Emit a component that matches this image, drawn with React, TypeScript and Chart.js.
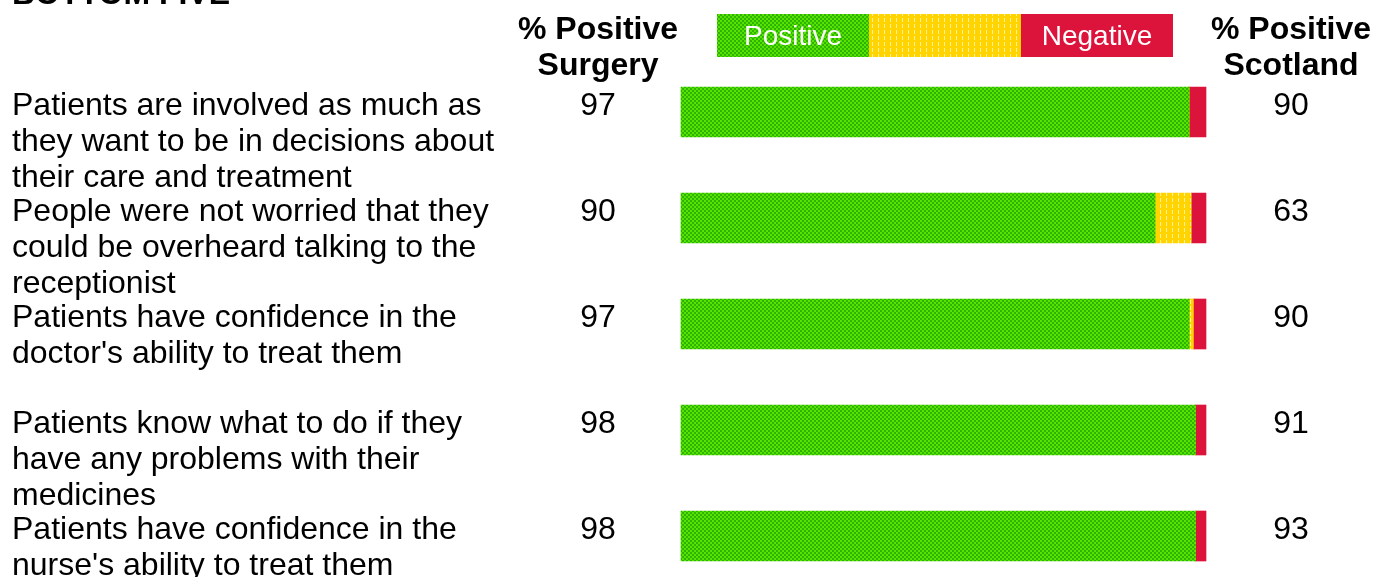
import { useEffect, useRef } from "react";
import { Chart, registerables } from "chart.js";

Chart.register(...registerables);

// ---- data ----
const title = "BOTTOM FIVE";
const categories: string[][] = [
  ["Patients are involved as much as", "they want to be in decisions about", "their care and treatment"],
  ["People were not worried that they", "could be overheard talking to the", "receptionist"],
  ["Patients have confidence in the", "doctor's ability to treat them"],
  ["Patients know what to do if they", "have any problems with their", "medicines"],
  ["Patients have confidence in the", "nurse's ability to treat them"],
];
const positive = [96.8, 90.3, 96.8, 98, 98];
const neutral = [0, 6.9, 0.8, 0, 0];
const negative = [3.2, 2.8, 2.4, 2, 2];
const surgeryPct = [97, 90, 97, 98, 98];
const scotlandPct = [90, 63, 90, 91, 93];
const seriesNames = ["Positive", "", "Negative"];
const surgeryHeader = ["% Positive", "Surgery"];
const scotlandHeader = ["% Positive", "Scotland"];

const FONT = "'Liberation Sans', Arial, sans-serif";

function makeGreen(): CanvasPattern | string {
  const c = document.createElement("canvas");
  c.width = 4;
  c.height = 4;
  const g = c.getContext("2d")!;
  g.fillStyle = "#2cb400";
  g.fillRect(0, 0, 4, 4);
  g.fillStyle = "#58e400";
  g.fillRect(0, 0, 2, 2);
  g.fillRect(2, 2, 2, 2);
  return g.createPattern(c, "repeat") || "#40c800";
}

function makeYellow(): CanvasPattern | string {
  const c = document.createElement("canvas");
  c.width = 6;
  c.height = 6;
  const g = c.getContext("2d")!;
  g.fillStyle = "#ffd400";
  g.fillRect(0, 0, 6, 6);
  g.fillStyle = "#fff09a";
  g.fillRect(2, 0, 1, 4);
  return g.createPattern(c, "repeat") || "#ffd700";
}

const RED = "#dc143c";

export default function App() {
  const ref = useRef<HTMLCanvasElement>(null);

  useEffect(() => {
    if (!ref.current) return;
    const green = makeGreen();
    const yellow = makeYellow();
    const fills = [green, yellow, RED];

    const textPlugin = {
      id: "sideText",
      afterDraw(chart: any) {
        const ctx = chart.ctx as CanvasRenderingContext2D;
        const y = chart.scales.y;
        ctx.save();
        ctx.fillStyle = "#000";
        ctx.textBaseline = "alphabetic";

        // title (cut off at top)
        ctx.font = `bold 32px ${FONT}`;
        ctx.textAlign = "left";
        ctx.fillText(title, 12, 4);

        // headers
        ctx.textAlign = "center";
        surgeryHeader.forEach((t, i) => ctx.fillText(t, 598, 39 + i * 36));
        scotlandHeader.forEach((t, i) => ctx.fillText(t, 1291, 39 + i * 36));

        // rows
        ctx.font = `32px ${FONT}`;
        categories.forEach((lines, i) => {
          const base = y.getPixelForValue(i) + 3;
          ctx.textAlign = "left";
          lines.forEach((ln, j) => ctx.fillText(ln, 12, base + j * 36));
          ctx.textAlign = "center";
          ctx.fillText(String(surgeryPct[i]), 598, base);
          ctx.fillText(String(scotlandPct[i]), 1291, base);
        });

        // legend
        const lx = 717, ly = 14, lw = 152, lh = 43;
        chart.data.datasets.forEach((ds: any, i: number) => {
          ctx.fillStyle = ds.backgroundColor;
          ctx.fillRect(lx + i * lw, ly, lw, lh);
          if (seriesNames[i]) {
            ctx.fillStyle = "#fff";
            ctx.font = `28px ${FONT}`;
            ctx.textAlign = "center";
            ctx.fillText(seriesNames[i], lx + i * lw + lw / 2, ly + 31);
          }
        });
        ctx.restore();
      },
    };

    const chart = new Chart(ref.current, {
      type: "bar",
      data: {
        labels: categories.map((c) => c.join(" ")),
        datasets: [positive, neutral, negative].map((d, i) => ({
          label: seriesNames[i] || "Neutral",
          data: d,
          backgroundColor: fills[i] as any,
          borderWidth: 0,
          barThickness: 50,
          clip: false as any,
        })),
      },
      options: {
        indexAxis: "y",
        animation: false,
        responsive: false,
        devicePixelRatio: 1,
        layout: { padding: { left: 681, right: 169, top: 112, bottom: 41 } },
        plugins: { legend: { display: false }, tooltip: { enabled: false } },
        scales: {
          x: { stacked: true, min: 0, max: 100, display: false },
          y: { stacked: true, display: false, offset: false, grid: { offset: false } },
        },
      },
      plugins: [textPlugin],
    });
    return () => chart.destroy();
  }, []);

  return (
    <div style={{ position: "absolute", left: 0, top: 0, width: 1375, height: 577, background: "#fff" }}>
      <canvas ref={ref} width={1375} height={577} style={{ display: "block" }} />
    </div>
  );
}
